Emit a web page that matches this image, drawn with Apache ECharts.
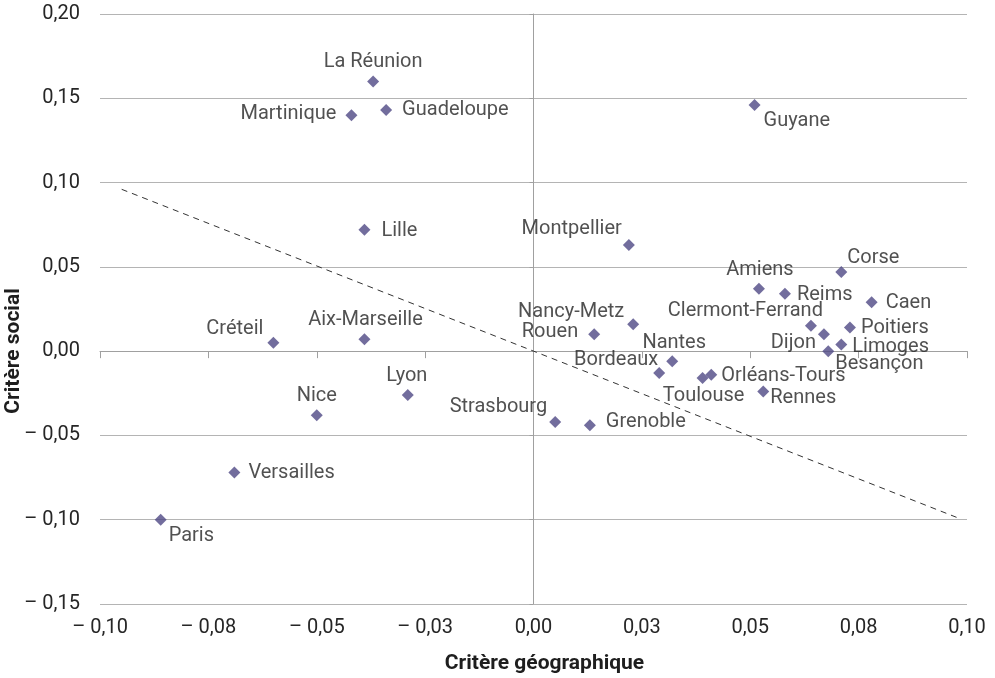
<!DOCTYPE html>
<html>
<head>
<meta charset="utf-8">
<script src="https://cdn.jsdelivr.net/npm/echarts@6/dist/echarts.min.js"></script>
<style>html,body{margin:0;padding:0;background:#fff}#c{width:995px;height:678px}</style>
</head>
<body>
<div id="c"></div>
<script>
// ---- data ----
const names = ['La Réunion','Martinique','Guadeloupe','Guyane','Lille','Montpellier','Corse','Amiens','Reims','Caen','Poitiers','Clermont-Ferrand','Dijon','Limoges','Besançon','Nancy-Metz','Rouen','Nantes','Bordeaux','Orléans-Tours','Toulouse','Rennes','Strasbourg','Grenoble','Lyon','Nice','Aix-Marseille','Créteil','Versailles','Paris'];
const geo = [-0.037,-0.042,-0.034,0.051,-0.039,0.022,0.071,0.052,0.058,0.078,0.073,0.064,0.067,0.071,0.068,0.023,0.014,0.032,0.029,0.041,0.039,0.053,0.005,0.013,-0.029,-0.050,-0.039,-0.060,-0.069,-0.086];
const soc = [0.160,0.140,0.143,0.146,0.072,0.063,0.047,0.037,0.034,0.029,0.014,0.015,0.010,0.004,0.000,0.016,0.010,-0.006,-0.013,-0.014,-0.016,-0.024,-0.042,-0.044,-0.026,-0.038,0.007,0.005,-0.072,-0.100];
const trendX = [-0.095, 0.098];
const trendY = [0.096, -0.099];
const xTickLabels = ['– 0,10','– 0,08','– 0,05','– 0,03','0,00','0,03','0,05','0,08','0,10'];
const yTickLabels = ['– 0,15','– 0,10','– 0,05','0,00','0,05','0,10','0,15','0,20'];

// ---- label placement (style) ----
const place = {
 'La Réunion':['center',0,-19],'Martinique':['right',-15,-1],'Guadeloupe':['left',16,0],'Guyane':['left',9,16],
 'Lille':['left',17,1],'Montpellier':['right',-7,-16],'Corse':['left',6,-14],'Amiens':['center',1,-19],
 'Reims':['left',12,1],'Caen':['left',14,1],'Poitiers':['left',11,0],'Clermont-Ferrand':['right',12,-15],
 'Dijon':['right',-8,9],'Limoges':['left',11,3],'Besançon':['left',7,13],'Nancy-Metz':['right',-9,-12],
 'Rouen':['right',-16,-2],'Nantes':['center',2,-18],'Bordeaux':['right',-1,-13],'Orléans-Tours':['left',10,1],
 'Toulouse':['center',1,18],'Rennes':['left',7,6],'Strasbourg':['right',-8,-15],'Grenoble':['left',16,-3],
 'Lyon':['center',-1,-19],'Nice':['center',0,-19],'Aix-Marseille':['center',1,-19],'Créteil':['right',-10,-14],
 'Versailles':['left',14,0],'Paris':['left',8,16]
};

const FONT = 'Roboto';
const TXT = '#262626';
const pts = names.map((n,i)=>{
  const p = place[n];
  return {name:n, value:[geo[i], soc[i]], label:{align:p[0], offset:[p[1],p[2]]}};
});

const chart = echarts.init(document.getElementById('c'), null, {renderer:'canvas'});
chart.setOption({
  animation:false,
  backgroundColor:'#fff',
  grid:{left:100, right:28, top:14, bottom:74, containLabel:false, outerBoundsMode:'none'},
  xAxis:[
    {type:'value', min:-0.1, max:0.1, interval:0.025, position:'bottom',
     axisLine:{show:false, onZero:false}, axisTick:{show:false}, splitLine:{show:false},
     axisLabel:{margin:14, color:TXT, fontFamily:FONT, fontSize:20, formatter:(v,i)=>xTickLabels[i]},
     name:'Critère géographique', nameLocation:'middle', nameGap:49,
     nameTextStyle:{fontFamily:FONT, fontWeight:'bold', fontSize:21, color:'#1e1e1e', padding:[0,0,0,22]}},
    {type:'value', min:-0.1, max:0.1, interval:0.025, position:'bottom',
     axisLine:{show:true, onZero:true, onZeroAxisIndex:0, lineStyle:{color:'#a0a0a0', width:1}},
     axisTick:{show:true, length:7, lineStyle:{color:'#a0a0a0'}}, axisLabel:{show:false}, splitLine:{show:false}}
  ],
  yAxis:[
    {type:'value', min:-0.15, max:0.2, interval:0.05, position:'left',
     axisLine:{show:false, onZero:false}, axisTick:{show:false},
     splitLine:{show:true, lineStyle:{color:'#b4b4b4', width:1}},
     axisLabel:{margin:20, color:TXT, fontFamily:FONT, fontSize:20, formatter:(v,i)=>yTickLabels[i]},
     name:'Critère social', nameLocation:'middle', nameGap:76, nameMoveOverlap:false,
     nameTextStyle:{fontFamily:FONT, fontWeight:'bold', fontSize:21, color:'#1e1e1e', padding:[0,84,0,0]}},
    {type:'value', min:-0.15, max:0.2, interval:0.05, position:'left',
     axisLine:{show:true, onZero:true, onZeroAxisIndex:0, lineStyle:{color:'#a0a0a0', width:1}},
     axisTick:{show:true, length:4, lineStyle:{color:'#a0a0a0'}}, axisLabel:{show:false}, splitLine:{show:false}}
  ],
  series:[
    {type:'line', xAxisIndex:0, yAxisIndex:0, data:trendX.map((x,i)=>[x,trendY[i]]),
     symbol:'none', lineStyle:{color:'#333', width:1, type:[6,5]}, silent:true, z:1},
    {type:'scatter', xAxisIndex:0, yAxisIndex:0, data:pts, symbol:'diamond', symbolSize:12,
     itemStyle:{color:'#4f4884'}, z:3,
     label:{show:true, position:'inside', formatter:'{b}', color:TXT, fontFamily:FONT, fontSize:20, verticalAlign:'middle'}}
  ]
});
</script>
</body>
</html>
